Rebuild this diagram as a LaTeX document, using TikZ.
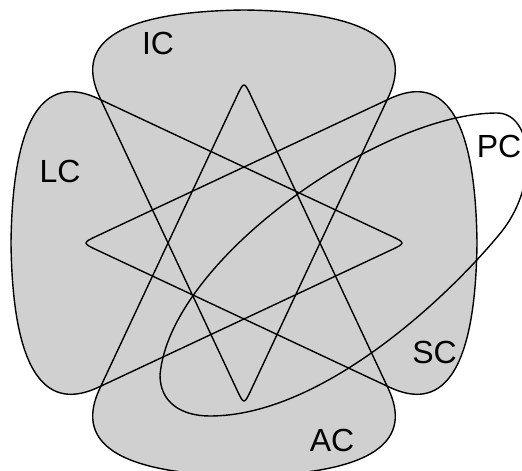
\documentclass[tikz,border=0pt]{standalone}
\usepackage{fontspec}
\setmainfont{Liberation Sans}
\definecolor{setfill}{RGB}{208,208,208}
\begin{document}
\begin{tikzpicture}[x=1pt,y=-1pt,
  lbl/.style={font=\fontsize{32}{32}\selectfont, inner sep=0pt},
  outline/.style={draw=black, line width=1.4pt, line join=round}]
\useasboundingbox (0,0) rectangle (522,471);
\clip (0,0) rectangle (522,471);
\def\icshape{(100,98) -- (236.5,389) .. controls (244,405) .. (251.5,389) -- (388,98) .. controls (404,64) and (408,12) .. (244,10) .. controls (80,12) and (84,64) .. (100,98) -- cycle}
% fills
\fill[setfill] \icshape;
\fill[setfill, rotate around={90:(244,243)}] \icshape;
\fill[setfill, rotate around={180:(244,243)}] \icshape;
\fill[setfill, rotate around={-90:(244,243)}] \icshape;
% outlines
\draw[outline] \icshape;
\draw[outline, rotate around={90:(244,243)}] \icshape;
\draw[outline, rotate around={180:(244,243)}] \icshape;
\draw[outline, rotate around={-90:(244,243)}] \icshape;
% PC
\draw[outline] (160,375) .. controls (170,260) and (380,113) .. (497,113)
  .. controls (534,113) and (540,188) .. (498,236)
  .. controls (444,301) and (320,416) .. (210,416)
  .. controls (182,416) and (160,403) .. cycle;
% labels
\node[lbl] (ic) at (158,43.5) {IC};
\node[lbl] (lc) at (60,171.5) {LC};
\node[lbl] (pc) at (499,146.5) {PC};
\node[lbl] (sc) at (434.5,352.5) {SC};
\node[lbl] (ac) at (332,440) {AC};
\end{tikzpicture}
\end{document}
